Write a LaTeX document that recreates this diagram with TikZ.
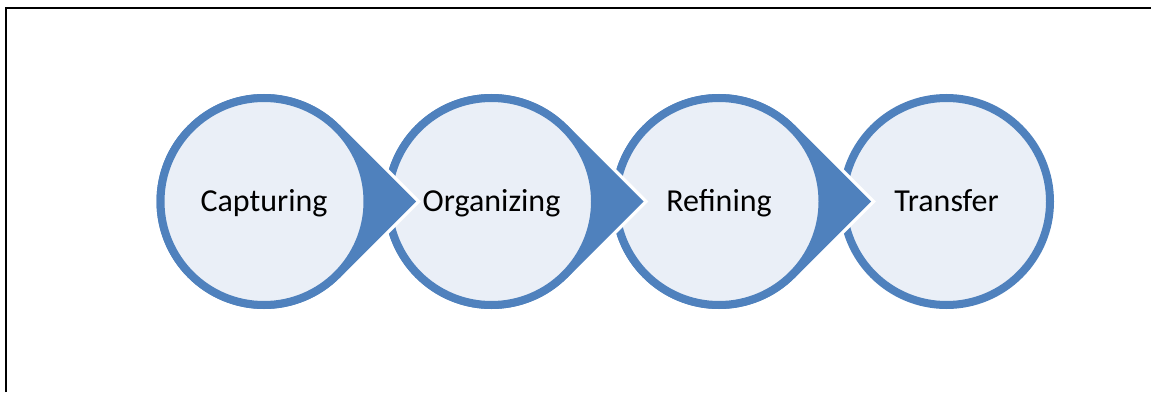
\documentclass[tikz,border=0pt]{standalone}
\usepackage{fontspec}
\setmainfont{Carlito}
\usetikzlibrary{calc}
\definecolor{stageblue}{RGB}{79,129,189}
\definecolor{stagefill}{RGB}{234,239,247}
\tikzset{
  stage/.style={circle, draw=stageblue, fill=stagefill, line width=8pt,
    minimum size=207pt, inner sep=0pt, text=black,
    font=\fontsize{32}{38}\selectfont, text height=25pt, text depth=6pt},
  pointer/.style={fill=stageblue},
  pointergap/.style={draw=white, line width=7pt, line join=miter},
  frameline/.style={draw=black, line width=2pt}
}
% tear-drop behind a stage circle: arc of the circle plus a point on the right
\newcommand{\teardrop}[2]{%
  \path[#2] (#1) ++(45:107.5pt) arc[start angle=45, end angle=315, radius=107.5pt]
    -- ($(#1)+(152pt,0)$) -- cycle;}
\begin{document}
\begin{tikzpicture}[x=1pt, y=1pt]
  \useasboundingbox (0,0) rectangle (1151,392);
  \draw[frameline] (6,0) -- (6,383.8) -- (1151,383.8);

  \coordinate (c1) at (264,190.5);
  \coordinate (c2) at (491.5,190.5);
  \coordinate (c3) at (719,190.5);
  \coordinate (c4) at (946.5,190.5);

  % drawn right to left so each pointer lies over the next circle
  \node[stage] (s4) at (c4) {Transfer};
  \teardrop{c3}{pointergap}
  \teardrop{c3}{pointer}
  \node[stage] (s3) at (c3) {Refining};
  \teardrop{c2}{pointergap}
  \teardrop{c2}{pointer}
  \node[stage] (s2) at (c2) {Organizing};
  \teardrop{c1}{pointergap}
  \teardrop{c1}{pointer}
  \node[stage] (s1) at (c1) {Capturing};
\end{tikzpicture}
\end{document}
